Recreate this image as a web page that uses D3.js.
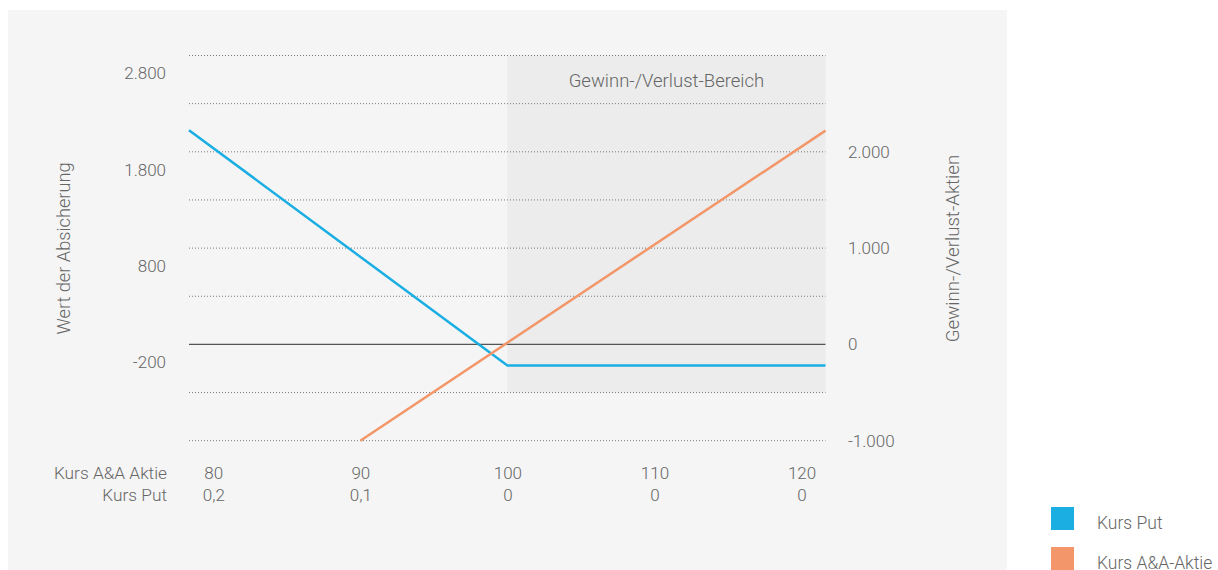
<!DOCTYPE html>
<html>
<head>
<meta charset="utf-8">
<script src="https://cdn.jsdelivr.net/npm/d3@7"></script>
<style>
  html, body { margin: 0; padding: 0; background: #ffffff; }
  svg { display: block; }
  text { font-family: Roboto, "Noto Sans", sans-serif; font-weight: 300; fill: #666666; }
</style>
</head>
<body>
<svg id="chart" width="1218" height="570"></svg>
<script>
// ---- data ----
const stockPrices = [80, 90, 100, 110, 120];          // Kurs A&A Aktie
const putPrices = ["0,2", "0,1", "0", "0", "0"];        // Kurs Put
const xDomain = [78.35, 121.63];

// Wert der Absicherung (left axis) – Kurs Put line
const putX = [78.35, 100, 121.63];
const putValues = [2210, -235, -235];

// Gewinn-/Verlust-Aktien (right axis) – Kurs A&A-Aktie line
const stockX = [90, 121.63];
const stockValues = [-1000, 2220];

const leftTicks = [-200, 800, 1800, 2800];
const rightTicks = [-1000, 0, 1000, 2000];
const gridValues = [3000, 2500, 2000, 1500, 1000, 500, -500, -1000];
const zeroValue = 0;
const regionStart = 100;
const regionRange = [-500, 3000];

const colors = { put: "#1aaee3", stock: "#f39669" };
const legendItems = [
  { label: "Kurs Put", key: "put" },
  { label: "Kurs A&A-Aktie", key: "stock" }
];

// ---- layout ----
const svg = d3.select("#chart");
const plot = { left: 189, right: 825.5, top: 55.5, bottom: 440.7 };

const x = d3.scaleLinear().domain(xDomain).range([plot.left, plot.right]);
const yRight = d3.scaleLinear().domain([-1000, 3000]).range([plot.bottom, plot.top]);
const yLeft = d3.scaleLinear().domain([-1015, 2985]).range([plot.bottom, plot.top]);

const fmt = v => d3.format(",")(v).replace(/,/g, ".").replace(/\u2212/g, "-");

// panel background
svg.append("rect").attr("x", 8).attr("y", 10).attr("width", 999).attr("height", 560)
  .attr("fill", "#f5f5f5");

// shaded region
svg.append("rect")
  .attr("x", x(regionStart)).attr("y", yRight(regionRange[1]))
  .attr("width", x(xDomain[1]) - x(regionStart))
  .attr("height", yRight(regionRange[0]) - yRight(regionRange[1]))
  .attr("fill", "#ececec");

svg.append("text")
  .attr("x", (x(regionStart) + x(xDomain[1])) / 2).attr("y", 81)
  .attr("text-anchor", "middle").attr("dominant-baseline", "central")
  .style("font-size", "18.5px")
  .text("Gewinn-/Verlust-Bereich");

// gridlines (dotted)
svg.append("g").selectAll("line").data(gridValues).join("line")
  .attr("x1", plot.left).attr("x2", plot.right)
  .attr("y1", d => yRight(d)).attr("y2", d => yRight(d))
  .attr("stroke", "#7a7a7a").attr("stroke-width", 1)
  .attr("stroke-dasharray", "1,2");

// zero line
svg.append("line")
  .attr("x1", plot.left).attr("x2", plot.right)
  .attr("y1", yRight(zeroValue)).attr("y2", yRight(zeroValue))
  .attr("stroke", "#555555").attr("stroke-width", 1.2);

// left axis
const leftAxis = d3.axisLeft(yLeft).tickValues(leftTicks).tickFormat(fmt).tickSize(0).tickPadding(0);
const gL = svg.append("g").attr("transform", "translate(166,0)").call(leftAxis);
gL.select(".domain").remove();
gL.selectAll("text").style("font-size", "17px").style("font-family", null).attr("fill", null);

// right axis
const rightAxis = d3.axisRight(yRight).tickValues(rightTicks).tickFormat(fmt).tickSize(0).tickPadding(0);
const gR = svg.append("g").attr("transform", "translate(848,0)").call(rightAxis);
gR.select(".domain").remove();
gR.selectAll("text").style("font-size", "17px").style("font-family", null).attr("fill", null);

// x axis two rows
const xAxis1 = d3.axisBottom(x).tickValues(stockPrices).tickFormat(d => d).tickSize(0).tickPadding(0);
const gX1 = svg.append("g").attr("transform", "translate(0,467)").call(xAxis1);
gX1.select(".domain").remove();
gX1.selectAll("text").style("font-size", "17px").style("font-family", null).attr("fill", null);

const xAxis2 = d3.axisBottom(x).tickValues(stockPrices).tickFormat((d, i) => putPrices[i]).tickSize(0).tickPadding(0);
const gX2 = svg.append("g").attr("transform", "translate(0,489)").call(xAxis2);
gX2.select(".domain").remove();
gX2.selectAll("text").style("font-size", "17px").style("font-family", null).attr("fill", null);

svg.append("text").attr("x", 167).attr("y", 473).attr("text-anchor", "end")
  .attr("dominant-baseline", "central").style("font-size", "17.3px").text("Kurs A&A Aktie");
svg.append("text").attr("x", 167).attr("y", 495).attr("text-anchor", "end")
  .attr("dominant-baseline", "central").style("font-size", "17.3px").text("Kurs Put");

// axis titles
svg.append("text")
  .attr("transform", "translate(63,248.5) rotate(-90)")
  .attr("text-anchor", "middle").attr("dominant-baseline", "central")
  .style("font-size", "18.2px").text("Wert der Absicherung");
svg.append("text")
  .attr("transform", "translate(953,248.5) rotate(-90)")
  .attr("text-anchor", "middle").attr("dominant-baseline", "central")
  .style("font-size", "18.7px").text("Gewinn-/Verlust-Aktien");

// lines
const putData = putX.map((d, i) => ({ x: d, v: putValues[i] }));
const stockData = stockX.map((d, i) => ({ x: d, v: stockValues[i] }));

svg.append("path").datum(putData)
  .attr("d", d3.line().x(d => x(d.x)).y(d => yLeft(d.v)))
  .attr("fill", "none").attr("stroke", colors.put).attr("stroke-width", 2.5);
svg.append("path").datum(stockData)
  .attr("d", d3.line().x(d => x(d.x)).y(d => yRight(d.v)))
  .attr("fill", "none").attr("stroke", colors.stock).attr("stroke-width", 2.5);

// legend
const lg = svg.append("g").selectAll("g").data(legendItems).join("g")
  .attr("transform", (d, i) => `translate(1051,${507 + i * 40})`);
lg.append("rect").attr("width", 23).attr("height", 23).attr("fill", d => colors[d.key]);
lg.append("text").attr("x", 46).attr("y", 16).attr("dominant-baseline", "central")
  .style("font-size", "17.5px").text(d => d.label);
</script>
</body>
</html>
